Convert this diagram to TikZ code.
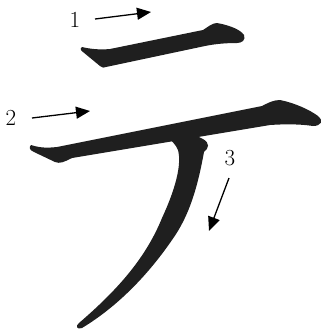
\documentclass[tikz,border=0pt]{standalone}
\usetikzlibrary{arrows.meta}

\begin{document}
\begin{tikzpicture}[x=1pt, y=-1pt, line join=round,
    stroke/.style={fill=black!88},
    order/.style={line width=1.3pt, -{Triangle[length=14pt,width=12pt]}},
    num/.style={font=\fontsize{23}{23}\selectfont, inner sep=0pt}]
  \useasboundingbox (0,0) rectangle (323,335);
  % first stroke
  \fill[stroke] (82,47) .. controls (90,49) and (100,50) .. (110,49) -- (203,30)
    .. controls (208,27) and (212,23) .. (217,23) .. controls (228,25) and (240,29) .. (244,35)
    .. controls (246,40) and (242,43) .. (237,43) .. controls (225,43) and (215,44) .. (205,46)
    -- (106,67) .. controls (104,68) and (102,68) .. (100,66) -- (83,52)
    .. controls (80,50) and (80,47) .. cycle;
  % second stroke
  \fill[stroke] (31,145) .. controls (40,148) and (48,148) .. (57,147) -- (262,106)
    .. controls (268,103) and (273,100) .. (280,100) .. controls (295,103) and (310,110) .. (318,116)
    .. controls (324,121) and (321,126) .. (313,126) .. controls (300,124) and (285,124) .. (270,125)
    -- (72,158) .. controls (64,162) and (60,164) .. (55,162) -- (34,152)
    .. controls (29,150) and (29,147) .. cycle;
  % third stroke
  \fill[stroke] (168,138) .. controls (180,134) and (195,134) .. (203,139)
    .. controls (210,143) and (209,148) .. (204,152)
    .. controls (198,185) and (190,215) .. (172,240)
    .. controls (150,272) and (120,305) .. (82,328)
    .. controls (77,330) and (75,326) .. (79,323)
    .. controls (115,292) and (145,260) .. (162,218)
    .. controls (175,190) and (182,165) .. (178,150)
    .. controls (176,145) and (172,141) .. cycle;
  % stroke order
  \node[num] (n1) at (75,20) {1};
  \node[num] (n2) at (11,118) {2};
  \node[num] (n3) at (230,158) {3};
  \coordinate (a1) at (95,19);  \coordinate (b1) at (151,12);
  \coordinate (a2) at (32,118); \coordinate (b2) at (90,111);
  \coordinate (a3) at (229,178); \coordinate (b3) at (209,231);
  \draw[order] (a1) -- (b1);
  \draw[order] (a2) -- (b2);
  \draw[order] (a3) -- (b3);
\end{tikzpicture}
\end{document}
